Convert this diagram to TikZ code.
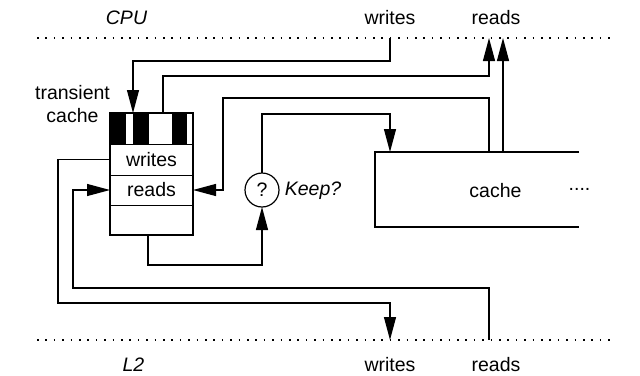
\documentclass[tikz,border=0pt]{standalone}
\usepackage{fontspec}
\setmainfont{Liberation Sans}
\usetikzlibrary{arrows.meta}
\newcommand\fnt{\fontsize{19.5}{23}\selectfont}
\begin{document}
\begin{tikzpicture}[x=1pt,y=-1pt,
  every node/.style={font=\fnt, inner sep=0pt, outer sep=0pt},
  conn/.style={line width=1.2pt},
  arr/.style={conn,-{Triangle[length=23pt,width=12pt]}},
  row/.style={draw,line width=1pt,minimum width=83pt,anchor=north west},
  lbl/.style={anchor=base},
  itlbl/.style={anchor=base,font=\fnt\itshape},
  dotline/.style={line width=1.5pt,dash pattern=on 1.5pt off 6.9pt}]
\useasboundingbox (0,0) rectangle (640,375);

% level lines
\draw[dotline] (37,38) -- (615,38);
\draw[dotline] (37,340) -- (615,340);

% labels
\node[itlbl] (cpu) at (126.5,24) {CPU};
\node[lbl] (cpuWl) at (390,24) {writes};
\node[lbl] (cpuRl) at (496,24) {reads};
\node[itlbl] (l2) at (133.5,371) {L2};
\node[lbl] (l2Wl) at (390,371) {writes};
\node[lbl] (l2Rl) at (496,371) {reads};
\node[lbl] (tlab1) at (72.5,99) {transient};
\node[lbl] (tlab2) at (72.5,122) {cache};

\coordinate (cpuW) at (390,38);
\coordinate (cpuR) at (489,38);
\coordinate (cpuR2) at (503,38);
\coordinate (l2W) at (390,340);
\coordinate (l2R) at (489,340);

% transient cache
\node[row,minimum height=31pt] (stripe) at (110,113) {};
\fill (110,113) rectangle (126,144);
\fill (133,113) rectangle (149,144);
\fill (172,113) rectangle (187,144);
\node[row,minimum height=31pt] (twrites) at (110,144) {writes};
\node[row,minimum height=30pt] (treads) at (110,175) {reads};
\node[row,minimum height=30pt] (tempty) at (110,205) {};
\draw[line width=1.2pt] (stripe.north west) rectangle (tempty.south east);

% keep decision
\node[circle,draw,line width=1.2pt,minimum size=34pt] (keep) at (262,190) {?};
\node[itlbl] (keepl) at (313,195) {Keep?};

% cache
\node[minimum width=204pt,minimum height=75pt,anchor=north west] (cache) at (375,152) {};
\draw[line width=1.2pt] (cache.north east) -- (cache.north west) -- (cache.south west) -- (cache.south east);
\node[lbl] (cachel) at (495.5,197) {cache};
\node[lbl] (more) at (579.5,190) {....};

% connectors
\draw[arr] (cpuW) -- ++(0,23) -| ([xshift=23pt]stripe.north west);
\draw[arr] ([xshift=53pt]stripe.north west) -- ++(0,-37) -| (cpuR);
\draw[arr] ([xshift=114pt]cache.north west) -- ++(0,-54) -| (223,190) -- (treads.east);
\draw[arr] (keep.north) |- ([xshift=15pt,yshift=38pt]cache.north west) -- ([xshift=15pt]cache.north west);
\draw[arr] ([xshift=128pt]cache.north west) -- (cpuR2);
\draw[arr] ([xshift=38pt]tempty.south west) -- ++(0,30) -| (keep.south);
\draw[arr] (twrites.west) -- ++(-52,0) |- (390,303) -- (l2W);
\draw[arr] (l2R) -- ++(0,-52) -| (73,190) -- (treads.west);
\end{tikzpicture}
\end{document}
